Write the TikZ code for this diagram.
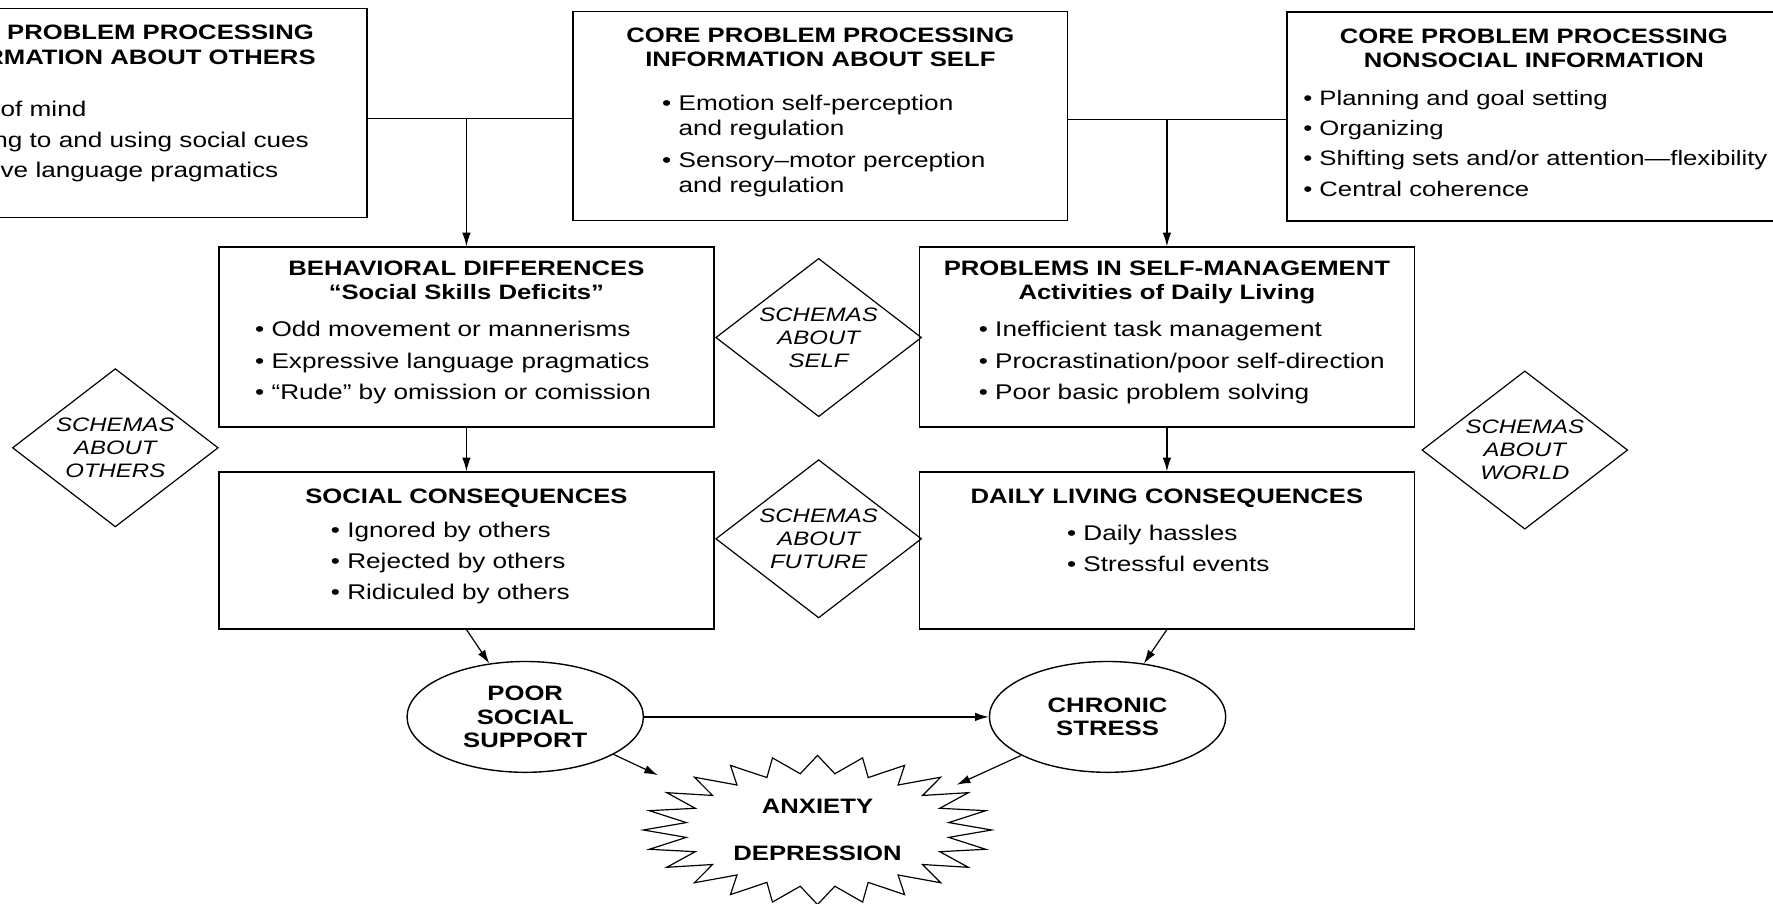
\documentclass[tikz,border=0pt]{standalone}
\usepackage{fontspec}
\setmainfont{Liberation Sans}[FakeStretch=1.23]
\usetikzlibrary{arrows.meta, positioning, shapes.geometric, calc}
\newcommand{\itm}{\textbullet\ }

\begin{document}
\begin{tikzpicture}[
            box/.style = {draw, line width=0.8pt, inner sep=0pt, minimum width=8.74cm},
            ttl/.style = {inner sep=0pt, align=center, font=\fontsize{10.5}{12.3}\selectfont\bfseries},
            lst/.style = {inner sep=0pt, align=left, font=\fontsize{10.7}{15.5}\selectfont},
            schema/.style = {diamond, draw, line width=0.6pt, aspect=1.3, inner sep=0pt,
                minimum width=3.64cm, minimum height=2.8cm, align=center,
                font=\fontsize{9.8}{11.6}\selectfont\itshape},
            oval/.style = {ellipse, draw, line width=0.7pt, inner sep=0pt,
                minimum width=4.18cm, minimum height=1.96cm, align=center,
                font=\fontsize{10.5}{11.7}\selectfont\bfseries},
            burst/.style = {ellipse, inner sep=0pt, minimum width=6.16cm, minimum height=2.64cm,
                align=center, font=\fontsize{10.5}{12.3}\selectfont\bfseries},
            link/.style = {line width=0.6pt},
            >={Latex[length=2.4mm,width=1.5mm]}]
            \useasboundingbox (0,0) rectangle (31.36,-15.98);
            \clip (0,0) rectangle (31.36,-15.98);
            \node[box, minimum height=3.70cm] (othersinfo) at (2.12,-2.00) {};
            \node[box, minimum height=3.70cm] (selfinfo) at (14.51,-2.05) {};
            \node[box, minimum height=3.70cm] (nonsoc) at (27.13,-2.06) {};
            \node[ttl, below=0.30cm of othersinfo.north] (othersinfoT)
                {CORE PROBLEM PROCESSING\\INFORMATION ABOUT OTHERS};
            \node[ttl, below=0.30cm of selfinfo.north] (selfinfoT)
                {CORE PROBLEM PROCESSING\\INFORMATION ABOUT SELF};
            \node[ttl, below=0.30cm of nonsoc.north] (nonsocT)
                {CORE PROBLEM PROCESSING\\NONSOCIAL INFORMATION};
            \node[lst, below right=1.64cm and 0.41cm of othersinfo.north west] (othersinfoL)
                {\itm Theory of mind\\\itm Attending to and using social cues\\\itm Receptive language pragmatics};
            \node[lst, font=\fontsize{10.7}{12.8}\selectfont, below right=1.48cm and 1.58cm of selfinfo.north west] (selfinfoL)
                {\itm Emotion self-perception\\\hphantom{\itm}and regulation\\[3.1pt]\itm Sensory–motor perception\\\hphantom{\itm}and regulation};
            \node[lst, font=\fontsize{10.5}{15.3}\selectfont, below right=1.39cm and 0.30cm of nonsoc.north west] (nonsocL)
                {\itm Planning and goal setting\\\itm Organizing\\\itm Shifting sets and/or attention—flexibility\\\itm Central coherence};

            \node[box, minimum width=8.76cm, minimum height=3.18cm] (behav) at (8.25,-5.96) {};
            \node[box, minimum width=8.76cm, minimum height=3.18cm] (selfman) at (20.64,-5.96) {};
            \node[ttl, below=0.25cm of behav.north] (behavT)
                {BEHAVIORAL DIFFERENCES\\“Social Skills Deficits”};
            \node[ttl, below=0.25cm of selfman.north] (selfmanT)
                {PROBLEMS IN SELF-MANAGEMENT\\Activities of Daily Living};
            \node[lst, font=\fontsize{10.7}{15.9}\selectfont, below right=1.32cm and 0.65cm of behav.north west] (behavL)
                {\itm Odd movement or mannerisms\\\itm Expressive language pragmatics\\\itm “Rude” by omission or comission};
            \node[lst, font=\fontsize{10.7}{15.9}\selectfont, below right=1.32cm and 1.06cm of selfman.north west] (selfmanL)
                {\itm Inefficient task management\\\itm Procrastination/poor self-direction\\\itm Poor basic problem solving};

            \node[box, minimum width=8.76cm, minimum height=2.77cm] (socl) at (8.25,-9.735) {};
            \node[box, minimum width=8.76cm, minimum height=2.77cm] (daily) at (20.64,-9.735) {};
            \node[ttl, below=0.30cm of socl.north] (soclT) {SOCIAL CONSEQUENCES};
            \node[ttl, below=0.30cm of daily.north] (dailyT) {DAILY LIVING CONSEQUENCES};
            \node[lst, below right=0.89cm and 1.99cm of socl.north west] (soclL)
                {\itm Ignored by others\\\itm Rejected by others\\\itm Ridiculed by others};
            \node[lst, below right=0.94cm and 2.62cm of daily.north west] (dailyL)
                {\itm Daily hassles\\\itm Stressful events};

            \node[schema] (schself) at (14.48,-5.97) {SCHEMAS\\ABOUT\\SELF};
            \node[schema] (schfut) at (14.48,-9.53) {SCHEMAS\\ABOUT\\FUTURE};
            \node[schema] (schoth) at (2.04,-7.92) {SCHEMAS\\ABOUT\\OTHERS};
            \node[schema] (schwld) at (26.97,-7.96) {SCHEMAS\\ABOUT\\WORLD};

            \node[oval] (poorsup) at (9.29,-12.68) {POOR\\SOCIAL\\SUPPORT};
            \node[oval] (chronic) at (19.59,-12.68) {CHRONIC\\STRESS};
            \node[burst] (anxdep) at (14.46,-14.68) {ANXIETY\\[11.5pt]DEPRESSION};
            \draw[link] ($(anxdep.center)+(0:3.08cm and 1.32cm)$)
                \foreach \k [evaluate=\k as \f using {ifthenelse(mod(\k,2)==0,1,0.76)}] in {1,...,47}
                { -- ($(anxdep.center)+({\k*7.5}:{3.08cm*\f} and {1.32cm*\f})$) } -- cycle;

            \coordinate (jl) at (8.25,-2.10);
            \coordinate (jr) at (20.64,-2.12);
            \draw[link] (othersinfo.east |- jl) -- (selfinfo.west |- jl);
            \draw[link,->] (jl) -- (behav.north);
            \draw[link] (selfinfo.east |- jr) -- (nonsoc.west |- jr);
            \draw[link,->] (jr) -- (selfman.north);
            \draw[link,->] (behav) -- (socl);
            \draw[link,->] (selfman) -- (daily);
            \draw[link,->] (socl.south) -- (poorsup);
            \draw[link,->] (daily.south) -- (chronic);
            \draw[link,->] (poorsup) -- (chronic);
            \draw[link,->,shorten >=0.4cm] (poorsup.-23) -- (anxdep.162);
            \draw[link,->] (chronic.204) -- (anxdep.18);
        \end{tikzpicture}
\end{document}
